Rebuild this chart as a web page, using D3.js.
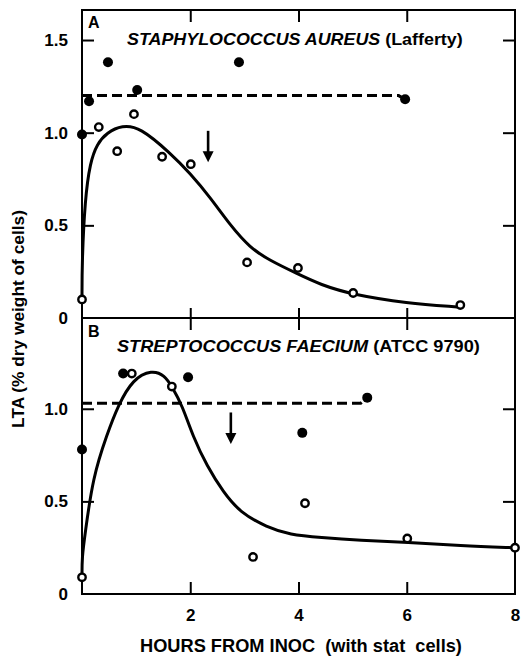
<!DOCTYPE html>
<html>
<head>
<meta charset="utf-8">
<script src="https://cdn.jsdelivr.net/npm/d3@7"></script>
<style>
  body { margin: 0; background: #fff; }
  svg { display: block; }
  text { font-family: "Liberation Sans", Arial, sans-serif; font-weight: bold; fill: #000; }
</style>
</head>
<body>
<svg id="chart"></svg>
<script>
// ---- data: [hours, LTA %] ----
// panel A, Staphylococcus aureus
const aStat = [[0, 0.99], [0.13, 1.17], [0.48, 1.38], [1.02, 1.23], [2.9, 1.38], [5.97, 1.18]];
const aGrow = [[0, 0.10], [0.31, 1.03], [0.65, 0.90], [0.96, 1.10], [1.48, 0.87], [2.01, 0.83],
               [3.05, 0.30], [3.99, 0.27], [5.01, 0.135], [6.99, 0.07]];
const aStatLine = [[0, 1.2], [5.85, 1.2], [5.97, 1.18]];
const aCurve = [[0, 0.10], [0.0, 0.30], [0.055, 0.64], [0.15, 0.84], [0.28, 0.94], [0.46, 1.00], [0.74, 1.04],
                [1.07, 1.03], [1.63, 0.89], [2.0, 0.78], [2.37, 0.65], [2.74, 0.50], [3.1, 0.38],
                [3.47, 0.31], [3.97, 0.24], [4.4, 0.18], [5.01, 0.125], [6.0, 0.08], [6.93, 0.06], [6.93, 0.06]];
const aArrow = [2.33, 1.01, 0.84];

// panel B, Streptococcus faecium
const bStat = [[0, 0.78], [0.76, 1.19], [1.96, 1.17], [4.07, 0.87], [5.27, 1.06]];
const bGrow = [[0, 0.09], [0.92, 1.19], [1.66, 1.12], [3.16, 0.20], [4.12, 0.49], [6.01, 0.30], [8, 0.25]];
const bStatLine = [[0, 1.03], [5.15, 1.03], [5.27, 1.06]];
const bCurve = [[0, 0.09], [0.0, 0.2], [0.055, 0.32], [0.2, 0.63], [0.46, 0.86], [0.67, 1.02], [0.94, 1.16],
                [1.29, 1.21], [1.53, 1.18], [1.66, 1.12], [1.85, 1.02], [2.05, 0.85], [2.31, 0.69],
                [2.61, 0.55], [2.92, 0.44], [3.42, 0.36], [3.84, 0.32], [4.4, 0.305], [5.14, 0.29],
                [6.01, 0.28], [6.99, 0.26], [8, 0.25], [8, 0.25]];
const bArrow = [2.75, 0.98, 0.81];

const xTicks = [2, 4, 6, 8];
const aYTicks = [0, 0.5, 1.0, 1.5];
const bYTicks = [0, 0.5, 1.0];

const W = 521, H = 658;
const svg = d3.select('#chart').attr('width', W).attr('height', H);

const x = d3.scaleLinear().domain([0, 8]).range([82, 515]);
const yA = d3.scaleLinear().domain([0, 1.662]).range([318, 10]);
const yB = d3.scaleLinear().domain([0, 1.49]).range([594, 318]);

const yFmt = d => d === 0 ? '0' : d3.format('.1f')(d);

function styleAxis(g, showText) {
  g.select('.domain').remove();
  g.selectAll('.tick line').attr('stroke', '#000').attr('stroke-width', 2);
  g.selectAll('.tick text').attr('font-size', 17).attr('fill', '#000');
  if (!showText) g.selectAll('.tick text').remove();
}

// left / right ticks
[[yA, aYTicks], [yB, bYTicks]].forEach(([y, ticks]) => {
  const inner = ticks.filter(t => t > 0);
  svg.append('g').attr('transform', `translate(${x(0)},0)`)
    .call(d3.axisLeft(y).tickValues(inner).tickSize(-12).tickFormat(yFmt))
    .call(g => styleAxis(g, false));
  svg.append('g').attr('transform', `translate(${x(0) - 14},0)`)
    .call(d3.axisLeft(y).tickValues(ticks).tickSize(0).tickPadding(0).tickFormat(yFmt))
    .call(g => styleAxis(g, true));
  svg.append('g').attr('transform', `translate(${x(8)},0)`)
    .call(d3.axisRight(y).tickValues(inner).tickSize(-12))
    .call(g => styleAxis(g, false));
});

// top / divider / bottom ticks on x
const inX = xTicks.filter(t => t < 8);
svg.append('g').attr('transform', `translate(0,${yA(1.662)})`)
  .call(d3.axisTop(x).tickValues(inX).tickSize(-12)).call(g => styleAxis(g, false));
svg.append('g').attr('transform', `translate(0,${yA(0)})`)
  .call(d3.axisBottom(x).tickValues(inX).tickSize(-10)).call(g => styleAxis(g, false));
svg.append('g').attr('transform', `translate(0,${yB(1.49)})`)
  .call(d3.axisTop(x).tickValues(inX).tickSize(-12)).call(g => styleAxis(g, false));
svg.append('g').attr('transform', `translate(0,${yB(0)})`)
  .call(d3.axisBottom(x).tickValues(inX).tickSize(-12)).call(g => styleAxis(g, false));
svg.append('g').attr('transform', `translate(0,${yB(0)})`)
  .call(d3.axisBottom(x).tickValues(xTicks).tickSize(0).tickPadding(15).tickFormat(d3.format('d')))
  .call(g => styleAxis(g, true));

// frame
svg.append('rect')
  .attr('x', x(0)).attr('y', yA(1.662))
  .attr('width', x(8) - x(0)).attr('height', yB(0) - yA(1.662))
  .attr('fill', 'none').attr('stroke', '#000').attr('stroke-width', 2);
svg.append('line')
  .attr('x1', x(0)).attr('x2', x(8)).attr('y1', yA(0)).attr('y2', yA(0))
  .attr('stroke', '#000').attr('stroke-width', 2);

function drawPanel(y, curve, statLine, stat, grow, arrow) {
  svg.append('path').datum(statLine)
    .attr('d', d3.line().x(d => x(d[0])).y(d => y(d[1])))
    .attr('fill', 'none').attr('stroke', '#000').attr('stroke-width', 3)
    .attr('stroke-dasharray', '10,5');
  svg.append('path').datum(curve)
    .attr('d', d3.line().x(d => x(d[0])).y(d => y(d[1])).curve(d3.curveBasis))
    .attr('fill', 'none').attr('stroke', '#000').attr('stroke-width', 3);
  svg.append('g').selectAll('circle').data(stat).join('circle')
    .attr('cx', d => x(d[0])).attr('cy', d => y(d[1])).attr('r', 5).attr('fill', '#000');
  svg.append('g').selectAll('circle').data(grow).join('circle')
    .attr('cx', d => x(d[0])).attr('cy', d => y(d[1])).attr('r', 3.7)
    .attr('fill', '#fff').attr('stroke', '#000').attr('stroke-width', 2.4);
  // arrow
  const ax = x(arrow[0]), y1 = y(arrow[1]), y2 = y(arrow[2]);
  svg.append('line').attr('x1', ax).attr('x2', ax).attr('y1', y1).attr('y2', y2 - 8)
    .attr('stroke', '#000').attr('stroke-width', 2.6);
  svg.append('path')
    .attr('d', `M${ax - 5.5},${y2 - 11} L${ax + 5.5},${y2 - 11} L${ax},${y2} Z`)
    .attr('fill', '#000');
}
drawPanel(yA, aCurve, aStatLine, aStat, aGrow, aArrow);
drawPanel(yB, bCurve, bStatLine, bStat, bGrow, bArrow);

// text placed then stretched to the measured span
function fit(t, x0, y, width, rotate) {
  const w = t.node().getBBox().width;
  t.attr('transform', `translate(${x0},${y})${rotate ? ' rotate(-90)' : ''} scale(${width / w},1)`);
}

svg.append('text').attr('font-size', 16).attr('x', 88).attr('y', 28).text('A');
svg.append('text').attr('font-size', 16).attr('x', 88).attr('y', 337).text('B');

const tA = svg.append('text').attr('font-size', 17);
tA.append('tspan').attr('font-style', 'italic').text('STAPHYLOCOCCUS AUREUS');
tA.append('tspan').text(' (Lafferty)');
fit(tA, 127, 45, 336);

const tB = svg.append('text').attr('font-size', 17);
tB.append('tspan').attr('font-style', 'italic').text('STREPTOCOCCUS FAECIUM');
tB.append('tspan').text(' (ATCC 9790)');
fit(tB, 117, 352, 363);

const xt = svg.append('text').attr('font-size', 18).attr('xml:space', 'preserve')
  .text('HOURS FROM INOC  (with stat  cells)');
fit(xt, 140, 652, 322);

const yt = svg.append('text').attr('font-size', 17).attr('text-anchor', 'middle')
  .text('LTA (% dry weight of cells)');
fit(yt, 24, 319, 218, true);
</script>
</body>
</html>
